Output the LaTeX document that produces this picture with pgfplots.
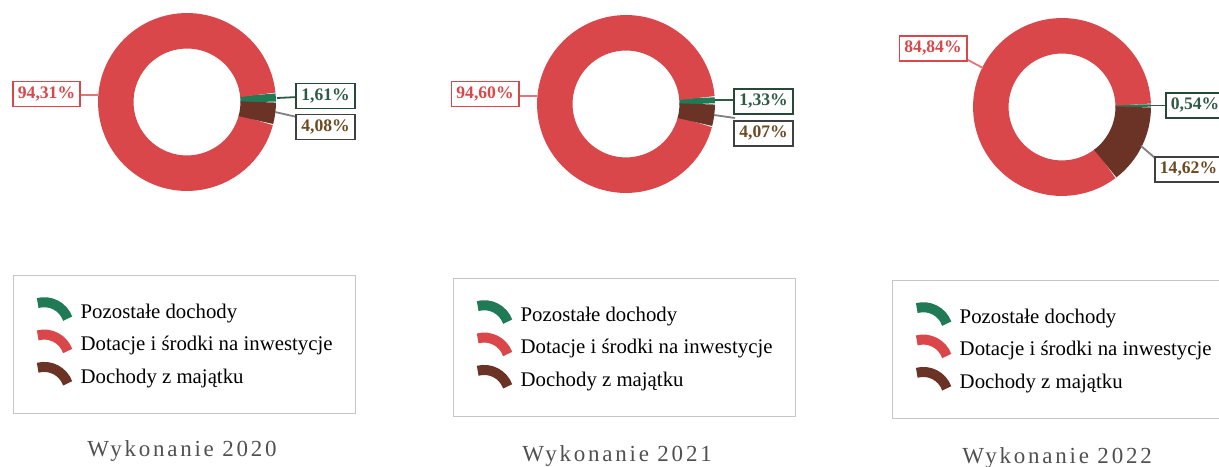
\documentclass[border=0pt]{standalone}
\usepackage{fontspec}
\setmainfont{Liberation Serif}
\usepackage{pgfplots}
\pgfplotsset{compat=1.18}

\definecolor{pgreen}{HTML}{1F7A55}
\definecolor{pred}{HTML}{D9474A}
\definecolor{pbrown}{HTML}{6A3325}
\definecolor{lgreen}{HTML}{2E5A45}
\definecolor{lbrown}{HTML}{6B4A22}
\definecolor{tgray}{HTML}{505050}

% data (percent): Pozostale dochody / Dotacje i srodki na inwestycje / Dochody z majatku
\def\gA{1.61}\def\rA{94.31}\def\bA{4.08}
\def\gB{1.33}\def\rB{94.60}\def\bB{4.07}
\def\gC{0.54}\def\rC{84.84}\def\bC{14.62}

\def\Rmid{35.6pt}
\def\Rw{17.75pt}

\pgfplotsset{
  panel/.style={at={(0,0)}, anchor=south west, x=0.5pt, y=0.5pt,
    xmin=0, xmax=1219, ymin=0, ymax=466, hide axis, clip=false,
    legend cell align=left,
    legend style={draw=gray!45, line width=0.7pt, inner xsep=9.5pt, inner ysep=9.5pt,
      anchor=north west, font=\fontsize{10.4}{12}\selectfont, row sep=-1.25pt,
      nodes={text height=10.5pt, text depth=5pt, inner ysep=0.5pt},
      /tikz/every odd column/.style={column sep=2pt}},
  },
  arcimg/.style={legend image code/.code={%
      \draw[##1, line width=5pt] (0pt,5pt) arc[start angle=105, end angle=20, radius=12.5pt];}},
}

\tikzset{
  lbl/.style={font=\bfseries\fontsize{8.8}{10}\selectfont, fill=white, line width=0.9pt,
    inner xsep=2.5pt, inner ysep=0pt, minimum height=12.5pt},
  ttl/.style={font=\fontsize{11.5}{13}\selectfont\addfontfeatures{LetterSpace=12}, text=tgray},
}

\newcommand{\donut}[5]{% cx, cy, g, r, b
  \draw[pgreen, line width=\Rw] (axis cs:#1,#2) ++(0:\Rmid) arc[start angle=0, end angle={3.6*#3}, radius=\Rmid];
  \draw[pred, line width=\Rw] (axis cs:#1,#2) ++({3.6*#3}:\Rmid) arc[start angle={3.6*#3}, end angle={3.6*(#3+#4)}, radius=\Rmid];
  \draw[pbrown, line width=\Rw] (axis cs:#1,#2) ++({3.6*(#3+#4)}:\Rmid) arc[start angle={3.6*(#3+#4)}, end angle=360, radius=\Rmid];
}

\begin{document}
\begin{tikzpicture}
% ---------------- 2020
\begin{axis}[panel, legend style={at={(0.01066,0.40987)}}]
  \addlegendimage{arcimg, pgreen}\addlegendentry{Pozostałe dochody}
  \addlegendimage{arcimg, pred}\addlegendentry{Dotacje i środki na inwestycje}
  \addlegendimage{arcimg, pbrown}\addlegendentry{Dochody z majątku}
  \donut{187}{364}{\gA}{\rA}{\bA}
  \draw[pred!75, line width=0.9pt] (axis cs:80,371) -- (axis cs:98,371);
  \draw[lgreen, line width=0.9pt] (axis cs:277,368) -- (axis cs:298,369);
  \draw[gray, line width=0.9pt] (axis cs:275,354) -- (axis cs:297,349);
  \node[lbl, draw=pred, text=pred] at (axis cs:46.5,372) {94,31\%};
  \node[lbl, draw=lgreen!80!black, text=lgreen] at (axis cs:325.5,370) {1,61\%};
  \node[lbl, draw=black!75, text=lbrown] at (axis cs:325.5,339) {4,08\%};
  \node[ttl] at (axis cs:182,15) {Wykonanie 2020};
\end{axis}
% ---------------- 2021
\begin{axis}[panel, legend style={at={(0.3716,0.4034)}}]
  \addlegendimage{arcimg, pgreen}\addlegendentry{Pozostałe dochody}
  \addlegendimage{arcimg, pred}\addlegendentry{Dotacje i środki na inwestycje}
  \addlegendimage{arcimg, pbrown}\addlegendentry{Dochody z majątku}
  \donut{626}{362}{\gB}{\rB}{\bB}
  \draw[pred!75, line width=0.9pt] (axis cs:518,370) -- (axis cs:537,370);
  \draw[lgreen, line width=0.9pt] (axis cs:715,366) -- (axis cs:735,366);
  \draw[gray, line width=0.9pt] (axis cs:714,351) -- (axis cs:735,348);
  \node[lbl, draw=pred, text=pred] at (axis cs:485,372) {94,60\%};
  \node[lbl, draw=lgreen!80!black, text=lgreen] at (axis cs:763.5,364.5) {1,33\%};
  \node[lbl, draw=black!75, text=lbrown] at (axis cs:763.5,332.5) {4,07\%};
  \node[ttl] at (axis cs:617,10) {Wykonanie 2021};
\end{axis}
% ---------------- 2022
\begin{axis}[panel, legend style={at={(0.7318,0.3991)}}]
  \addlegendimage{arcimg, pgreen}\addlegendentry{Pozostałe dochody}
  \addlegendimage{arcimg, pred}\addlegendentry{Dotacje i środki na inwestycje}
  \addlegendimage{arcimg, pbrown}\addlegendentry{Dochody z majątku}
  \donut{1062}{359}{\gC}{\rC}{\bC}
  \draw[pred!75, line width=0.9pt] (axis cs:983,398) -- (axis cs:966,407);
  \draw[lgreen, line width=0.9pt] (axis cs:1150,360.5) -- (axis cs:1167,360.5);
  \draw[gray, line width=0.9pt] (axis cs:1141,320) -- (axis cs:1155,308);
  \node[lbl, draw=pred, text=pred] at (axis cs:933,417.5) {84,84\%};
  \node[lbl, draw=lgreen!80!black, text=lgreen] at (axis cs:1195,360.5) {0,54\%};
  \node[lbl, draw=black!75, text=lbrown] at (axis cs:1188.5,296.5) {14,62\%};
  \node[ttl] at (axis cs:1057,8) {Wykonanie 2022};
\end{axis}
\pgfresetboundingbox
\path (0,0) rectangle (609.5pt,233pt);
\end{tikzpicture}
\end{document}
